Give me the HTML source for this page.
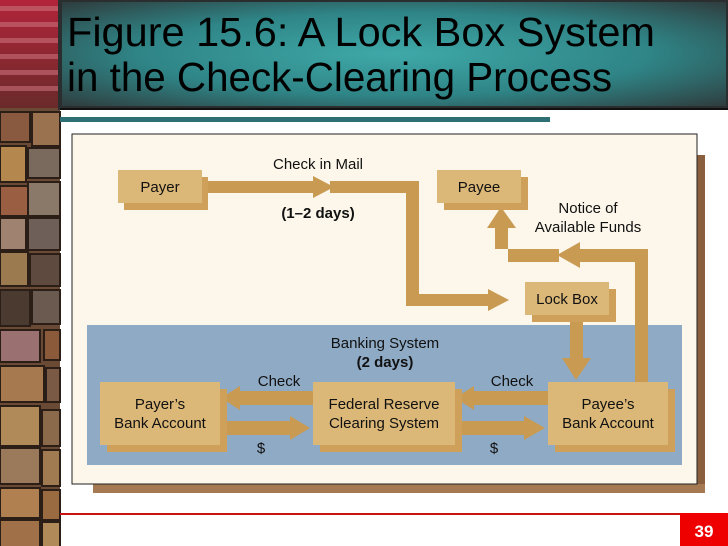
<!DOCTYPE html>
<html><head><meta charset="utf-8"><style>
html,body{margin:0;padding:0;width:728px;height:546px;overflow:hidden;background:#fff}
svg{display:block}
text{font-family:"Liberation Sans",sans-serif}
</style></head><body>
<svg width="728" height="546" viewBox="0 0 728 546" xmlns="http://www.w3.org/2000/svg">
<defs>
<radialGradient id="tg" cx="50%" cy="50%" r="70%">
<stop offset="0" stop-color="#3fa9a8"/><stop offset="0.55" stop-color="#2f8486"/><stop offset="1" stop-color="#2f3a3b"/>
</radialGradient>
<linearGradient id="red" x1="0" y1="0" x2="0" y2="1">
<stop offset="0" stop-color="#b2243a"/><stop offset="1" stop-color="#6a2a2a"/>
</linearGradient>
</defs>
<rect x="0" y="108" width="60" height="438" fill="#6a4a35"/>
<g stroke="#2a1e16" stroke-width="2">
<rect x="0" y="112" width="30" height="30" fill="#8a5a40"/><rect x="32" y="112" width="28" height="34" fill="#9a7250"/>
<rect x="0" y="146" width="26" height="36" fill="#b3874e"/><rect x="28" y="148" width="32" height="30" fill="#7a6a5e"/>
<rect x="0" y="186" width="28" height="30" fill="#9a5e42"/><rect x="28" y="182" width="32" height="34" fill="#8a7868"/>
<rect x="0" y="218" width="26" height="32" fill="#a08270"/><rect x="28" y="218" width="32" height="32" fill="#6e6058"/>
<rect x="0" y="252" width="28" height="34" fill="#9a7a4e"/><rect x="30" y="254" width="30" height="32" fill="#5e4a3e"/>
<rect x="0" y="290" width="30" height="36" fill="#4a3a30"/><rect x="32" y="290" width="28" height="34" fill="#6a5a50"/>
<rect x="0" y="330" width="40" height="32" fill="#9a7070"/><rect x="44" y="330" width="16" height="30" fill="#8a5a3a"/>
<rect x="0" y="366" width="44" height="36" fill="#a67a4e"/><rect x="46" y="368" width="14" height="34" fill="#7a5a44"/>
<rect x="0" y="406" width="40" height="40" fill="#b08a58"/><rect x="42" y="410" width="18" height="36" fill="#8a6a4a"/>
<rect x="0" y="448" width="40" height="36" fill="#9a7a5a"/><rect x="42" y="450" width="18" height="36" fill="#a07a50"/>
<rect x="0" y="488" width="40" height="30" fill="#b08050"/><rect x="42" y="490" width="18" height="30" fill="#9a6a40"/>
<rect x="0" y="520" width="40" height="30" fill="#a07048"/><rect x="42" y="522" width="18" height="30" fill="#b08a58"/>
</g>
<rect x="0" y="0" width="60" height="108" fill="url(#red)"/>
<g fill="#c9707a" opacity="0.6">
<rect x="0" y="6" width="60" height="5"/><rect x="0" y="22" width="60" height="5"/><rect x="0" y="38" width="60" height="5"/><rect x="0" y="54" width="60" height="5"/><rect x="0" y="70" width="60" height="5"/><rect x="0" y="86" width="60" height="5"/>
</g>
<rect x="60" y="0" width="668" height="108" fill="url(#tg)"/>
<rect x="60" y="0" width="668" height="108" fill="none" stroke="#2a2e2e" stroke-width="4"/>
<text x="67" y="46" font-size="41" fill="#000" textLength="588" lengthAdjust="spacingAndGlyphs">Figure 15.6:  A Lock Box System</text>
<text x="67" y="91" font-size="41" fill="#000" textLength="545" lengthAdjust="spacingAndGlyphs">in the Check-Clearing Process</text>
<rect x="60" y="108" width="668" height="2" fill="#111"/>
<rect x="60" y="117" width="490" height="5" fill="#2e6f73"/>
<rect x="93" y="155" width="612" height="338" fill="#8a5f3e"/>
<rect x="93" y="484" width="612" height="9" fill="#a57a52"/>
<rect x="72" y="134" width="625" height="350" fill="#fcf7ea" stroke="#222" stroke-width="1"/>
<rect x="87" y="325" width="595" height="140" fill="#8faac4"/>
<g fill="#c99a52">
<polygon points="205,181 313,181 313,176 334,187 313,198 313,193 205,193"/>
<polygon points="330,181 419,181 419,294 488,294 488,289 509,300 488,311 488,306 406,306 406,193 330,193"/>
<rect x="570" y="315" width="13" height="45"/>
<polygon points="562,358 591,358 576,380"/>
<polygon points="635,382 635,262 580,262 580,268 557,255 580,242 580,249 648,249 648,382"/>
<polygon points="559,249 559,262 508,262 508,226 495,226 495,249"/>
<polygon points="487,228 516,228 501,207"/>
<polygon points="313,391 240,391 240,386 221,398 240,410 240,405 313,405"/>
<polygon points="548,391 474,391 474,386 455,398 474,410 474,405 548,405"/>
<polygon points="220,421 290,421 290,416 310,428 290,440 290,435 220,435"/>
<polygon points="455,421 524,421 524,416 545,428 524,440 524,435 455,435"/>
</g>
<g fill="#cfa05a">
<rect x="124" y="177" width="84" height="33"/>
<rect x="444" y="177" width="84" height="33"/>
<rect x="532" y="289" width="84" height="33"/>
<rect x="107" y="389" width="120" height="63"/>
<rect x="320" y="389" width="142" height="63"/>
<rect x="555" y="389" width="120" height="63"/>
</g>
<g fill="#dcb878">
<rect x="118" y="170" width="84" height="33"/>
<rect x="437" y="170" width="84" height="33"/>
<rect x="525" y="282" width="84" height="33"/>
<rect x="100" y="382" width="120" height="63"/>
<rect x="313" y="382" width="142" height="63"/>
<rect x="548" y="382" width="120" height="63"/>
</g>
<g font-size="15" fill="#111" text-anchor="middle">
<text x="160" y="192">Payer</text>
<text x="479" y="192">Payee</text>
<text x="567" y="304">Lock Box</text>
<text x="160" y="409">Payer’s</text><text x="160" y="428">Bank Account</text>
<text x="384" y="409">Federal Reserve</text><text x="384" y="428">Clearing System</text>
<text x="608" y="409">Payee’s</text><text x="608" y="428">Bank Account</text>
<text x="318" y="169">Check in Mail</text>
<text x="318" y="218" font-weight="bold">(1–2 days)</text>
<text x="588" y="213">Notice of</text>
<text x="588" y="232">Available Funds</text>
<text x="385" y="348">Banking System</text>
<text x="385" y="367" font-weight="bold">(2 days)</text>
<text x="279" y="386">Check</text>
<text x="512" y="386">Check</text>
<text x="261" y="453">$</text>
<text x="494" y="453">$</text>
</g>
<rect x="60" y="513" width="622" height="2" fill="#cc1111"/>
<rect x="680" y="513" width="48" height="33" fill="#ee0000"/>
<text x="704" y="537" font-size="17" font-weight="bold" fill="#fff" text-anchor="middle">39</text>
</svg>
</body></html>
